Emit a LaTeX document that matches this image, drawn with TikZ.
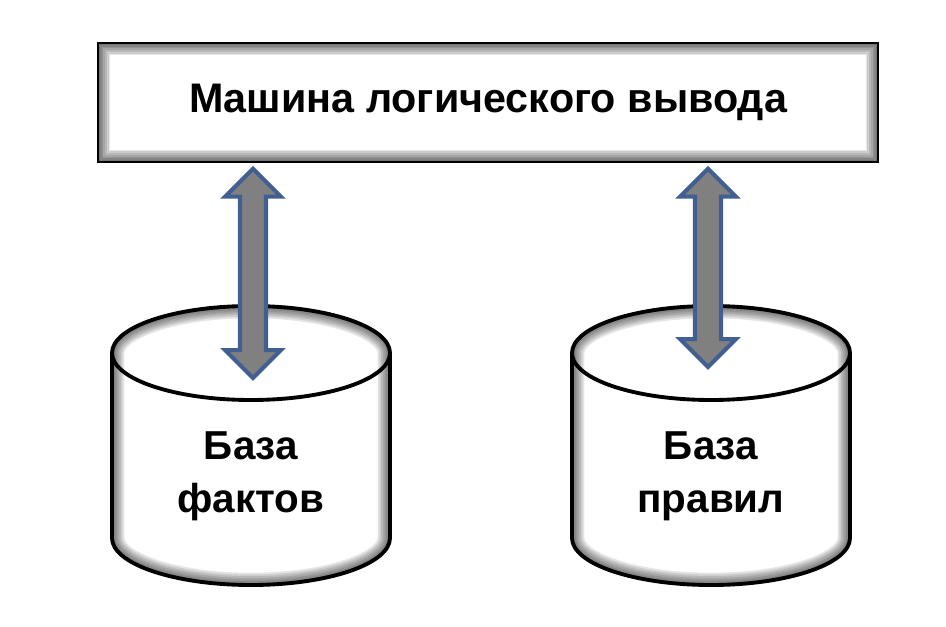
\documentclass[tikz,border=0pt]{standalone}
\usepackage{fontspec}
\setmainfont{Liberation Sans}
\usetikzlibrary{calc}
\definecolor{arrowgray}{RGB}{128,128,128}
\definecolor{arrowblue}{RGB}{65,95,145}
\newcommand{\cylpath}[1]{(#1-139,273) -- (#1-139,88) arc[start angle=180, end angle=360, x radius=139, y radius=47] -- (#1+139,273) arc[start angle=0, end angle=180, x radius=139, y radius=47] -- cycle}

\begin{document}
\begin{tikzpicture}[x=0.02cm, y=0.02cm, every node/.style={font=\bfseries}]
  \tikzset{
    machinebox/.style={draw, line width=0.8pt, fill=white, minimum width=15.6cm, minimum height=2.38cm, inner sep=0pt,
      path picture={\foreach \w in {2,4,...,14}
        \draw[line width=\w pt, black, opacity=0.1] (path picture bounding box.south west) rectangle (path picture bounding box.north east);}},
    basetext/.style={align=center, font=\bfseries\fontsize{23}{30}\selectfont},
    cylline/.style={draw, line width=2.2pt},
    blockarrow/.style={draw=arrowblue, fill=arrowgray, line width=2.3pt, line join=miter}
  }
  \useasboundingbox (0,0) rectangle (946,626);

  % Inference engine
  \node[machinebox, font=\bfseries\fontsize{23.5}{28}\selectfont] (machine) at (488,523.5) {Машина логического вывода};

  % Knowledge bases
  \foreach \cx/\nm/\txt in {251/facts/{База\\фактов}, 711/rules/{База\\правил}} {
    \begin{scope}
      \clip \cylpath{\cx};
      \foreach \w in {2,4,...,14}
        \draw[line width=\w pt, black, opacity=0.1] \cylpath{\cx};
    \end{scope}
    \draw[cylline] \cylpath{\cx};
    \draw[cylline] (\cx-139,273) arc[start angle=180, end angle=360, x radius=139, y radius=47];
    \node[basetext] (\nm) at (\cx,150) {\txt};
  }
  \coordinate (facts port) at (253,248);
  \coordinate (rules port) at (708,259);

  % Two-way links
  \foreach \nm in {facts, rules}
    \draw[blockarrow] let \p1=(\nm\space port), \p2=($(machine.south)+(0,-6)$) in
      (\x1,\y2) -- (\x1+15.9pt,\y2-15.9pt) -- (\x1+7.4pt,\y2-15.9pt) -- (\x1+7.4pt,\y1+15.9pt)
      -- (\x1+15.9pt,\y1+15.9pt) -- (\x1,\y1) -- (\x1-15.9pt,\y1+15.9pt) -- (\x1-7.4pt,\y1+15.9pt)
      -- (\x1-7.4pt,\y2-15.9pt) -- (\x1-15.9pt,\y2-15.9pt) -- cycle;
\end{tikzpicture}
\end{document}
